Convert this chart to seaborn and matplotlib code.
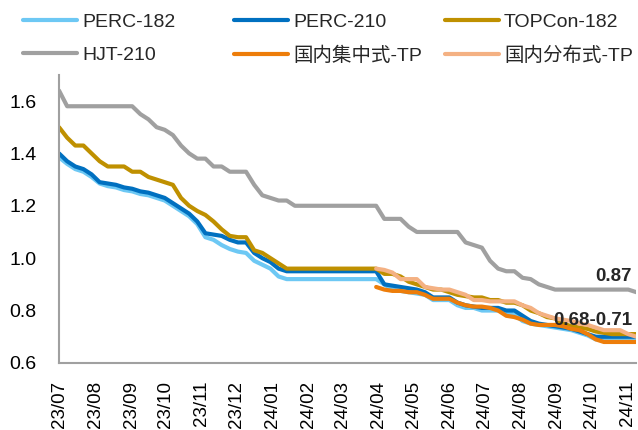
import pandas as pd
import numpy as np
import seaborn as sns
import matplotlib.pyplot as plt
import matplotlib.dates as mdates

# weekly prices (RMB/W), Jul 2023 - Nov 2024
weeks = pd.date_range("2023-07-01", periods=72, freq="7D")

perc_182 = [1.385, 1.36, 1.34, 1.33, 1.31, 1.285, 1.275, 1.27, 1.26, 1.255,
            1.245, 1.24, 1.23, 1.22, 1.20, 1.18, 1.16, 1.13, 1.08, 1.07,
            1.05, 1.035, 1.025, 1.02, 0.99, 0.975, 0.96, 0.93, 0.92, 0.92,
            0.92, 0.92, 0.92, 0.92, 0.92, 0.92, 0.92, 0.92, 0.92, 0.92,
            0.90, 0.88, 0.875, 0.87, 0.865, 0.86, 0.84, 0.84, 0.84, 0.82,
            0.81, 0.81, 0.80, 0.80, 0.80, 0.79, 0.785, 0.76, 0.75, 0.745,
            0.74, 0.735, 0.73, 0.725, 0.715, 0.705, 0.69, 0.69, 0.69, 0.69,
            0.69, 0.69]
perc_210 = [1.40, 1.37, 1.35, 1.34, 1.32, 1.29, 1.285, 1.28, 1.27, 1.265,
            1.255, 1.25, 1.24, 1.23, 1.21, 1.19, 1.17, 1.14, 1.095, 1.09,
            1.085, 1.07, 1.06, 1.06, 1.02, 1.00, 0.985, 0.96, 0.95, 0.95,
            0.95, 0.95, 0.95, 0.95, 0.95, 0.95, 0.95, 0.95, 0.95, 0.95,
            0.90, 0.895, 0.89, 0.885, 0.88, 0.87, 0.85, 0.85, 0.85, 0.83,
            0.82, 0.815, 0.81, 0.81, 0.81, 0.80, 0.80, 0.78, 0.76, 0.75,
            0.745, 0.74, 0.735, 0.73, 0.72, 0.71, 0.70, 0.70, 0.70, 0.70,
            0.70, 0.70]
topcon_182 = [1.50, 1.46, 1.43, 1.43, 1.40, 1.37, 1.35, 1.35, 1.35, 1.33,
              1.33, 1.31, 1.30, 1.29, 1.28, 1.23, 1.20, 1.18, 1.165, 1.14,
              1.11, 1.085, 1.08, 1.08, 1.03, 1.02, 1.00, 0.98, 0.96, 0.96,
              0.96, 0.96, 0.96, 0.96, 0.96, 0.96, 0.96, 0.96, 0.96, 0.96,
              0.94, 0.94, 0.93, 0.91, 0.90, 0.89, 0.88, 0.88, 0.87, 0.86,
              0.855, 0.85, 0.85, 0.84, 0.84, 0.83, 0.83, 0.82, 0.80, 0.79,
              0.775, 0.77, 0.75, 0.74, 0.735, 0.73, 0.72, 0.715, 0.71, 0.71,
              0.71, 0.71]
hjt_210 = [1.64, 1.58, 1.58, 1.58, 1.58, 1.58, 1.58, 1.58, 1.58, 1.58,
           1.55, 1.53, 1.50, 1.49, 1.47, 1.43, 1.40, 1.38, 1.38, 1.35,
           1.35, 1.33, 1.33, 1.33, 1.28, 1.24, 1.23, 1.22, 1.22, 1.20,
           1.20, 1.20, 1.20, 1.20, 1.20, 1.20, 1.20, 1.20, 1.20, 1.20,
           1.15, 1.15, 1.15, 1.12, 1.10, 1.10, 1.10, 1.10, 1.10, 1.10,
           1.06, 1.05, 1.04, 0.99, 0.96, 0.95, 0.95, 0.925, 0.92, 0.90,
           0.89, 0.88, 0.88, 0.88, 0.88, 0.88, 0.88, 0.88, 0.88, 0.88,
           0.88, 0.87]
# TP series start in Apr 2024 (week index 39)
tp_start = 39
tp_central = [0.89, 0.88, 0.875, 0.875, 0.87, 0.87, 0.86, 0.845, 0.845, 0.845,
              0.83, 0.82, 0.815, 0.815, 0.81, 0.80, 0.78, 0.775, 0.765, 0.75,
              0.745, 0.745, 0.745, 0.74, 0.73, 0.725, 0.71, 0.69, 0.68, 0.68,
              0.68, 0.68, 0.68]
tp_distributed = [0.96, 0.955, 0.945, 0.92, 0.92, 0.92, 0.89, 0.885, 0.88, 0.88,
                  0.87, 0.86, 0.84, 0.84, 0.835, 0.835, 0.835, 0.835, 0.82, 0.81,
                  0.79, 0.78, 0.77, 0.765, 0.76, 0.75, 0.745, 0.735, 0.725, 0.725,
                  0.725, 0.71, 0.70]

names = ["PERC-182", "PERC-210", "TOPCon-182", "HJT-210", "国内集中式-TP", "国内分布式-TP"]
colors = ["#6DC8F4", "#0070C0", "#BF9000", "#A0A0A0", "#ED7D0A", "#F4B183"]

frames = []
for name, vals, start in [(names[0], perc_182, 0), (names[1], perc_210, 0),
                          (names[2], topcon_182, 0), (names[3], hjt_210, 0),
                          (names[4], tp_central, tp_start), (names[5], tp_distributed, tp_start)]:
    frames.append(pd.DataFrame({"date": weeks[start:start + len(vals)], "price": vals, "series": name}))
df = pd.concat(frames, ignore_index=True)

sns.set_style("white")
plt.rcParams["font.family"] = ["Liberation Sans", "Noto Sans CJK SC", "DejaVu Sans"]

fig = plt.figure(figsize=(6.38, 4.30), dpi=100)
ax = fig.add_axes([0.0925, 0.156, 0.905, 0.67])

sns.lineplot(data=df, x="date", y="price", hue="series", hue_order=names,
             palette=colors, linewidth=3, estimator=None, ax=ax, legend=False)

ax.set_xlim(weeks[0], weeks[-1])
ax.set_ylim(0.6, 1.7)
ax.set_yticks(np.arange(0.6, 1.61, 0.2))
ax.yaxis.set_major_formatter(plt.FormatStrFormatter("%.1f"))
ax.xaxis.set_major_locator(mdates.MonthLocator())
ax.xaxis.set_major_formatter(mdates.DateFormatter("%y/%m"))
ax.set_xlabel("")
ax.set_ylabel("")

for s in ["top", "right"]:
    ax.spines[s].set_visible(False)
for s in ["left", "bottom"]:
    ax.spines[s].set_color("#A0A0A0")
    ax.spines[s].set_linewidth(1.5)
ax.tick_params(axis="both", direction="in", length=5, width=1.2, color="#A0A0A0",
               labelcolor="black")
ax.tick_params(axis="y", labelsize=14, pad=16)
ax.tick_params(axis="x", labelsize=13.5, rotation=90, pad=13)

ax.annotate("0.87", xy=(weeks[-1], hjt_210[-1]), xytext=(-3, 5), textcoords="offset points",
            ha="right", va="bottom", fontsize=13.5, fontweight="bold")
ax.annotate("0.68-0.71", xy=(weeks[-1], topcon_182[-1]), xytext=(-3, 4), textcoords="offset points",
            ha="right", va="bottom", fontsize=13.5, fontweight="bold")

# legend: three columns of fixed width like the original
handles = ax.get_lines()[:6]
col_x = [0.030, 0.3605, 0.691]
for c in range(3):
    hs = [handles[c], handles[c + 3]]
    fig.legend(hs, [names[c], names[c + 3]], loc="upper left",
               bbox_to_anchor=(col_x[c], 0.979), frameon=False, fontsize=14,
               handlelength=2.8, handletextpad=0.25, labelspacing=0.83,
               borderaxespad=0, borderpad=0.2)

fig.savefig("out.png", dpi=100)
